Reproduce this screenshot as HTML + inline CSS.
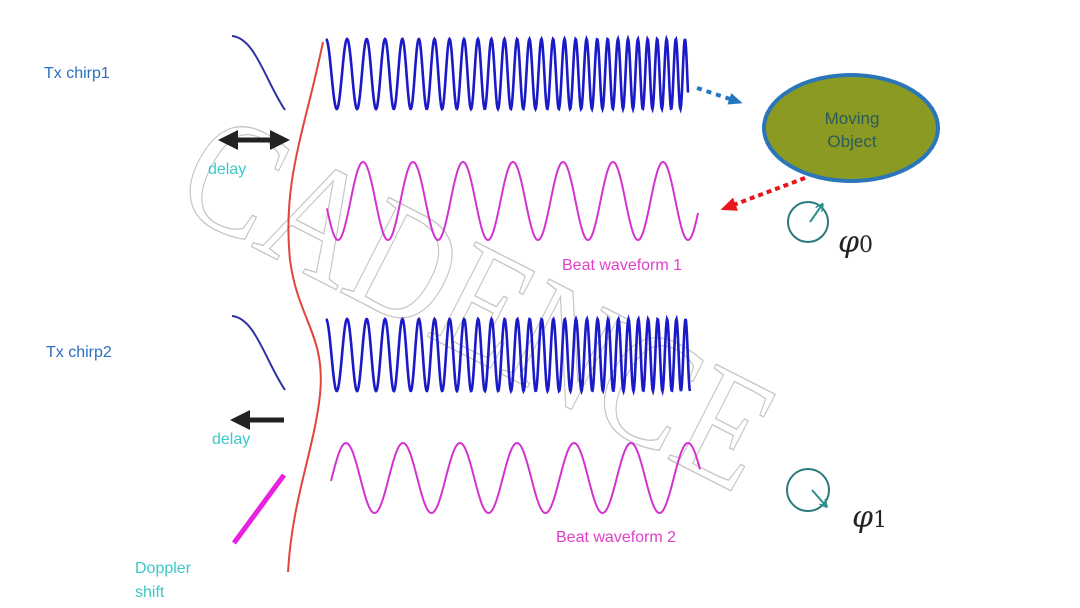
<!DOCTYPE html>
<html><head><meta charset="utf-8"><style>
html,body{margin:0;padding:0;background:#fff;width:1080px;height:608px;overflow:hidden}
svg{display:block}
.s{font-family:"Liberation Sans",sans-serif}
</style></head><body>
<svg id="s" width="1080" height="608" viewBox="0 0 1080 608" xmlns="http://www.w3.org/2000/svg">
<defs>
<marker id="ab" markerUnits="userSpaceOnUse" markerWidth="14" markerHeight="14" refX="7" refY="7" orient="auto"><path d="M0,1L14,7L0,13z" fill="#2277c0"/></marker>
<marker id="ar" markerUnits="userSpaceOnUse" markerWidth="16" markerHeight="16" refX="8" refY="8" orient="auto"><path d="M0,1L16,8L0,15z" fill="#e8151a"/></marker>
<marker id="ak" markerWidth="4" markerHeight="4" refX="2" refY="2" orient="auto"><path d="M0,0L4,2L0,4z" fill="#222"/></marker>
<marker id="ak2" markerWidth="4" markerHeight="4" refX="2" refY="2" orient="auto-start-reverse"><path d="M0,0L4,2L0,4z" fill="#222"/></marker>
<marker id="at" markerUnits="userSpaceOnUse" markerWidth="8" markerHeight="8" refX="6" refY="4" orient="auto"><path d="M0,0L8,4L0,8" fill="none" stroke="#2a9090" stroke-width="1.5"/></marker>
</defs>
<!-- watermark -->
<text x="0" y="0" transform="translate(170,205) rotate(27) scale(1,1.2)" style="font-family:'Liberation Serif',serif;font-size:135px" fill="none" stroke="#c4c4c4" stroke-width="1.1">CADENCE</text>

<path d="M323,42 C305,130 282,180 290,260 C298,320 326,335 320,395 C314,450 292,500 288,572" fill="none" stroke="#e0453a" stroke-width="2"/>

<path d="M232,36 C255,38 265,80 285,110" fill="none" stroke="#3030a8" stroke-width="2"/>
<path d="M232,316 C255,318 265,360 285,390" fill="none" stroke="#3030a8" stroke-width="2"/>

<path id="c1" fill="none" stroke="#1a1ac8" stroke-width="2.6"/>
<path id="c2" fill="none" stroke="#1a1ac8" stroke-width="2.6"/>
<path id="b1" fill="none" stroke="#d233d0" stroke-width="2"/>
<path id="b2" fill="none" stroke="#d233d0" stroke-width="2"/>

<line x1="228" y1="140" x2="280" y2="140" stroke="#222" stroke-width="5" marker-end="url(#ak)" marker-start="url(#ak2)"/>
<line x1="284" y1="420" x2="240" y2="420" stroke="#222" stroke-width="5" marker-end="url(#ak)"/>
<line x1="284" y1="475" x2="234" y2="543" stroke="#e820e0" stroke-width="5"/>

<line x1="697" y1="88" x2="736" y2="101" stroke="#2277c0" stroke-width="4" stroke-dasharray="5,5" marker-end="url(#ab)"/>
<line x1="805" y1="178" x2="728" y2="207" stroke="#e8151a" stroke-width="4" stroke-dasharray="5,4" marker-end="url(#ar)"/>

<ellipse cx="851" cy="128" rx="87" ry="53" fill="#8a9a22" stroke="#2a76b8" stroke-width="4"/>
<text class="s" x="852" y="124" text-anchor="middle" font-size="17" fill="#2d5a5a">Moving</text>
<text class="s" x="852" y="147" text-anchor="middle" font-size="17" fill="#2d5a5a">Object</text>

<circle cx="808" cy="222" r="20" fill="none" stroke="#2a7a7a" stroke-width="2"/>
<line x1="810" y1="222" x2="822" y2="205" stroke="#2a9090" stroke-width="2" marker-end="url(#at)"/>
<circle cx="808" cy="490" r="21" fill="none" stroke="#2a7a7a" stroke-width="2"/>
<line x1="812" y1="490" x2="826" y2="506" stroke="#2a9090" stroke-width="2" marker-end="url(#at)"/>
<text x="838" y="252" style="font-family:'DejaVu Serif',serif;font-style:italic;font-size:30px" fill="#222">φ<tspan style="font-size:22px;font-style:normal">0</tspan></text>
<text x="852" y="527" style="font-family:'DejaVu Serif',serif;font-style:italic;font-size:30px" fill="#222">φ<tspan style="font-size:22px;font-style:normal">1</tspan></text>

<text class="s" x="44" y="78" font-size="16" fill="#2a70c0">Tx chirp1</text>
<text class="s" x="46" y="357" font-size="16" fill="#2a70c0">Tx chirp2</text>
<text class="s" x="208" y="174" font-size="16" fill="#3cc8c8">delay</text>
<text class="s" x="212" y="444" font-size="16" fill="#3cc8c8">delay</text>
<text class="s" x="135" y="573" font-size="16" fill="#3cc8c8">Doppler</text>
<text class="s" x="135" y="597" font-size="16" fill="#3cc8c8">shift</text>
<text class="s" x="562" y="270" font-size="16" fill="#e040c8">Beat waveform 1</text>
<text class="s" x="556" y="542" font-size="16" fill="#e040c8">Beat waveform 2</text>
</svg>
<script>
function chirp(id,x0,x1,c,A,f0,f1){var L=x1-x0,d="";for(var x=x0;x<=x1;x+=0.5){var u=x-x0;var ph=2*Math.PI*(f0*u+(f1-f0)*u*u/(2*L));var y=c-A*Math.cos(ph);d+=(d?"L":"M")+x.toFixed(1)+","+y.toFixed(1);}document.getElementById(id).setAttribute("d",d);}
function sine(id,x0,x1,c,A,p,pk){var d="";for(var x=x0;x<=x1;x+=0.5){var y=c-A*Math.cos(2*Math.PI*(x-pk)/p);d+=(d?"L":"M")+x.toFixed(1)+","+y.toFixed(1);}document.getElementById(id).setAttribute("d",d);}
chirp("c1",326,688,74,35,1/22,1/9);
chirp("c2",326,690,355,36,1/22,1/9);
sine("b1",327,698,201,39,50,363);
sine("b2",331,700,478,35,57,346);
</script>
</body></html>
